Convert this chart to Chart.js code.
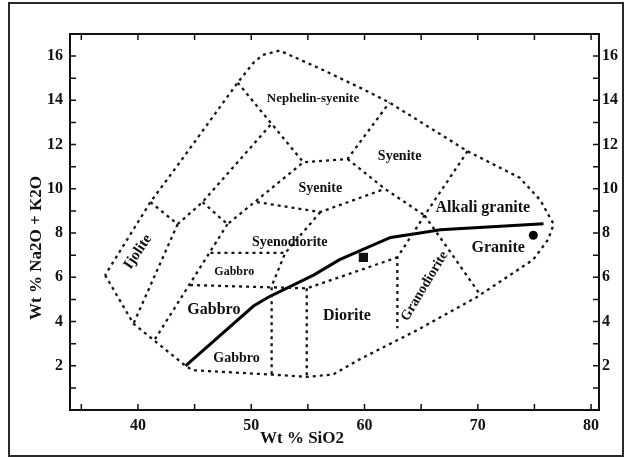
<!DOCTYPE html>
<html>
<head>
<meta charset="utf-8">
<script src="https://cdn.jsdelivr.net/npm/chart.js@4.4.1/dist/chart.umd.min.js"></script>
<style>
  html, body { margin: 0; padding: 0; background: #fff; }
  #wrap { width: 624px; height: 457px; position: relative; }
</style>
</head>
<body>
<div id="wrap"><canvas id="tas"></canvas></div>
<script>
/* ================= DATA ================= */

// field boundaries (SiO2, Na2O+K2O)
const outerBoundary = [
  [37.1, 6.1], [39.6, 3.9], [44.2, 2.0], [44.8, 1.8], [51.8, 1.6], [54.9, 1.5], [57.2, 1.6],
  [59.6, 2.3], [64.6, 3.6], [69.9, 5.1], [74.9, 6.8], [76.2, 7.7], [76.7, 8.4], [75.5, 9.5],
  [73.7, 10.5], [69.1, 11.7], [62.2, 13.9], [59.9, 14.5], [55.8, 15.5], [52.5, 16.25],
  [51.0, 16.05], [50.2, 15.7], [48.8, 14.8], [43.7, 11.2], [41.1, 9.4], [37.1, 6.1]
];
const ijoliteTop = [[41.1, 9.4], [43.5, 8.4]];
const ijoliteRight = [[43.5, 8.4], [39.6, 3.9]];
const ijoliteGabbroLine = [[43.5, 8.4], [45.7, 9.4], [51.9, 13.0]];
const gabbroNorth = [[45.7, 9.4], [47.9, 8.4], [54.6, 11.2]];
const gabbroWest = [[47.9, 8.4], [41.5, 3.2]];
const nephelineBase = [[48.8, 14.8], [54.6, 11.2], [58.5, 11.35], [62.2, 13.9]];
const syeniteBase = [[58.5, 11.35], [61.8, 10.0], [65.3, 8.8]];
const syenodioriteTop = [[50.5, 9.4], [56.1, 8.95], [61.8, 10.0]];
const granodioriteLeft = [[69.1, 11.7], [65.3, 8.8], [62.9, 6.9], [62.9, 3.7]];
const granodioriteRight = [[65.3, 8.8], [70.1, 5.3]];
const gabbroBoxTop = [[46.4, 7.1], [53.0, 7.1]];
const gabbroBoxRight = [[56.1, 8.95], [53.0, 7.1], [51.8, 5.6], [51.8, 1.6]];
const dioriteTop = [[44.6, 5.65], [54.9, 5.5], [62.9, 6.9]];
const dioriteLeft = [[54.9, 5.5], [54.9, 1.5]];

// alkaline / subalkaline divide (solid)
const alkalineDivide = [
  [44.2, 2.0], [50.2, 4.7], [51.5, 5.1], [55.5, 6.1], [57.8, 6.8],
  [62.3, 7.8], [64.9, 8.0], [66.7, 8.15], [75.8, 8.42]
];

// samples
const sampleSquare = [[59.9, 6.9]];
const sampleCircle = [[74.9, 7.9]];

// field names and their anchor (SiO2, alkalis)
const fieldNames = ["Nephelin-syenite", "Syenite", "Syenite", "Syenodiorite", "Gabbro", "Gabbro",
  "Gabbro", "Diorite", "Granodiorite", "Granite", "Alkali granite", "Ijolite"];
const fieldX = [55.45, 63.1, 56.1, 53.4, 48.5, 46.7, 48.7, 58.45, 65.3, 71.8, 70.45, 40.0];
const fieldY = [14.1, 11.45, 10.0, 7.56, 6.24, 4.52, 2.35, 4.25, 5.6, 7.33, 9.14, 7.15];

// axis ranges
const xMin = 34, xMax = 80.7, xStep = 5;
const yMin = 0, yMax = 17, yStep = 1;

/* ================= STYLE ================= */

const SERIF = "'Liberation Serif', 'Times New Roman', serif";
const fieldSize = [13, 14, 14, 14, 12, 16, 14, 16, 14, 16, 16, 15];
const fieldAngle = [0, 0, 0, 0, 0, 0, 0, 0, -59, 0, 0, -56];

const pts = arr => arr.map(p => ({ x: p[0], y: p[1] }));

function dashed(arr) {
  return {
    data: pts(arr), showLine: true, pointRadius: 0, borderColor: "#151515",
    borderWidth: 2.3, borderDash: [3, 4], fill: false, tension: 0
  };
}

const boundaries = [outerBoundary, ijoliteTop, ijoliteRight, ijoliteGabbroLine, gabbroNorth,
  gabbroWest, nephelineBase, syeniteBase, syenodioriteTop, granodioriteLeft, granodioriteRight,
  gabbroBoxTop, gabbroBoxRight, dioriteTop, dioriteLeft];

const datasets = boundaries.map(dashed);
datasets.push({
  data: pts(alkalineDivide), showLine: true, pointRadius: 0, borderColor: "#000",
  borderWidth: 3, fill: false, tension: 0
});
datasets.push({
  data: pts(sampleSquare), pointStyle: "rect", pointRadius: 6.5,
  backgroundColor: "#111", borderColor: "#111", borderWidth: 0
});
datasets.push({
  data: pts(sampleCircle), pointStyle: "circle", pointRadius: 4.5,
  backgroundColor: "#000", borderColor: "#000", borderWidth: 0
});

/* ================= PLUGIN ================= */

const decor = {
  id: "decor",
  afterDraw(chart) {
    const { ctx, chartArea: a, scales } = chart;
    ctx.save();

    // outer frame
    ctx.strokeStyle = "#2a2a2a";
    ctx.lineWidth = 2;
    ctx.strokeRect(9, 3, 614, 453);

    // plot box
    ctx.strokeStyle = "#111";
    ctx.strokeRect(a.left, a.top, a.right - a.left, a.bottom - a.top);

    // inward ticks on four sides
    ctx.lineWidth = 1.5;
    ctx.beginPath();
    scales.x.ticks.forEach(t => {
      const px = scales.x.getPixelForValue(t.value);
      ctx.moveTo(px, a.bottom); ctx.lineTo(px, a.bottom - 6);
      ctx.moveTo(px, a.top); ctx.lineTo(px, a.top + 6);
    });
    scales.y.ticks.forEach(t => {
      const py = scales.y.getPixelForValue(t.value);
      ctx.moveTo(a.left, py); ctx.lineTo(a.left + 6, py);
      ctx.moveTo(a.right, py); ctx.lineTo(a.right - 6, py);
    });
    ctx.stroke();

    // field names
    ctx.fillStyle = "#111";
    ctx.textAlign = "center";
    ctx.textBaseline = "middle";
    fieldNames.forEach((name, i) => {
      const px = scales.x.getPixelForValue(fieldX[i]);
      const py = scales.y.getPixelForValue(fieldY[i]);
      ctx.save();
      ctx.translate(px, py);
      ctx.rotate(fieldAngle[i] * Math.PI / 180);
      ctx.font = "bold " + fieldSize[i] + "px " + SERIF;
      ctx.fillText(name, 0, 0);
      ctx.restore();
    });

    // axis titles
    ctx.font = "bold 17px " + SERIF;
    ctx.fillText("Wt % SiO2", 302, 439);
    ctx.save();
    ctx.translate(37, 248);
    ctx.rotate(-Math.PI / 2);
    ctx.fillText("Wt % Na2O + K2O", 0, 0);
    ctx.restore();

    ctx.restore();
  }
};

/* ================= CHART ================= */

const tickFont = { family: SERIF, size: 16, weight: "bold" };

function yAxis(position, width, pad) {
  return {
    type: "linear", position, min: yMin, max: yMax,
    grid: { display: false, drawTicks: false }, border: { display: false },
    ticks: {
      stepSize: yStep, autoSkip: false, padding: pad, color: "#111", font: tickFont,
      callback: v => (v > 0 && v % 2 === 0) ? v : ""
    },
    afterFit: s => { s.width = width; }
  };
}

new Chart(document.getElementById("tas"), {
  type: "scatter",
  data: { datasets },
  options: {
    responsive: true,
    maintainAspectRatio: false,
    animation: false,
    layout: { padding: { top: 34, left: 0, right: 0, bottom: 0 } },
    plugins: { legend: { display: false }, tooltip: { enabled: false } },
    scales: {
      x: {
        type: "linear", position: "bottom", min: xMin, max: xMax,
        grid: { display: false, drawTicks: false }, border: { display: false },
        ticks: {
          stepSize: xStep, includeBounds: false, autoSkip: false, maxRotation: 0,
          padding: 6, color: "#111", font: tickFont,
          callback: v => v % 10 === 0 ? v : ""
        },
        afterFit: s => { s.height = 47; }
      },
      y: yAxis("left", 70, 7),
      y2: yAxis("right", 25, 3)
    }
  },
  plugins: [decor]
});
</script>
</body>
</html>
